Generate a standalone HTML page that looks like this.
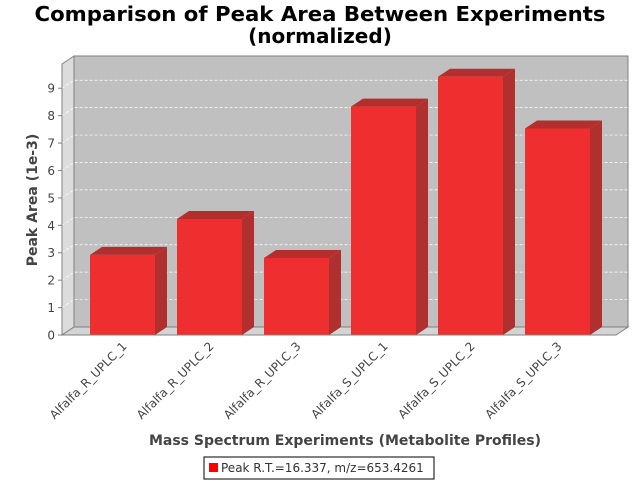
<!DOCTYPE html>
<html><head><meta charset="utf-8"><style>
body{margin:0;background:#fff}
svg{display:block;font-family:"DejaVu Sans","Liberation Sans",sans-serif}
</style></head><body>
<svg id="chart" width="640" height="480" viewBox="0 0 640 480" xmlns="http://www.w3.org/2000/svg">
<text x="320" y="21" text-anchor="middle" font-size="20" font-weight="bold" textLength="571" lengthAdjust="spacingAndGlyphs">Comparison of Peak Area Between Experiments</text>
<text x="320" y="43" text-anchor="middle" font-size="20" font-weight="bold">(normalized)</text>
<g id="plot"></g>
<text transform="translate(37,200) rotate(-90)" text-anchor="middle" font-size="14" font-weight="bold" fill="#444">Peak Area (1e-3)</text>
<text x="345" y="445" text-anchor="middle" font-size="14" font-weight="bold" fill="#444">Mass Spectrum Experiments (Metabolite Profiles)</text>
<g>
<rect x="204" y="457" width="230" height="22" fill="#fff" stroke="#000"/>
<rect x="209" y="463" width="9" height="9" fill="#ff0000"/>
<text x="221" y="472" font-size="12" fill="#333">Peak R.T.=16.337, m/z=653.4261</text>
</g>
</svg>
<script>
const categories=["Alfalfa_R_UPLC_1","Alfalfa_R_UPLC_2","Alfalfa_R_UPLC_3","Alfalfa_S_UPLC_1","Alfalfa_S_UPLC_2","Alfalfa_S_UPLC_3"];
const values=[2.92,4.23,2.81,8.33,9.42,7.53];
const yTicks=[0,1,2,3,4,5,6,7,8,9];
const NS="http://www.w3.org/2000/svg";
const plot=document.getElementById('plot');
const X0=62,X1=616,Y0=335,YT=64,DX=12,DY=8,U=27.42;
const y=v=>Y0-v*U;
const xc=i=>122.5+87*i;
function mk(t,a,p){const e=document.createElementNS(NS,t);for(const k in a)e.setAttribute(k,a[k]);(p||plot).appendChild(e);return e;}
// walls
let e;
e=mk('polygon',{points:`${X0+DX},${YT-DY} ${X1+DX},${YT-DY} ${X1+DX},${Y0-DY} ${X0+DX},${Y0-DY}`,fill:'#c0c0c0',stroke:'#808080'});

e=mk('polygon',{points:`${X0},${YT} ${X0+DX},${YT-DY} ${X0+DX},${Y0-DY} ${X0},${Y0}`,fill:'#dcdcdc',stroke:'#808080'});

e=mk('polygon',{points:`${X0},${Y0} ${X0+DX},${Y0-DY} ${X1+DX},${Y0-DY} ${X1},${Y0}`,fill:'#d4d4d4',stroke:'#808080'});

yTicks.forEach(t=>{
  if(t>0){e=mk('polyline',{points:`${X0},${y(t)} ${X0+DX},${y(t)-DY} ${X1+DX},${y(t)-DY}`,fill:'none',stroke:'#fff','stroke-dasharray':'3,2','stroke-width':0.7});
  }
  e=mk('line',{x1:X0-4,x2:X0,y1:y(t),y2:y(t),stroke:'#808080'});
  
  e=mk('text',{x:X0-7,y:y(t)+4.5,'text-anchor':'end','font-size':12,fill:'#444'});e.textContent=t;
  
});
e=mk('line',{x1:X0,x2:X0,y1:YT,y2:Y0,stroke:'#808080'});

values.forEach((v,i)=>{
  const l=xc(i)-32.5,r=xc(i)+32.5,t=y(v);
  const g=mk('g',{});
  
  mk('polygon',{points:`${l},${t} ${l+DX},${t-DY} ${r+DX},${t-DY} ${r},${t}`,fill:'#b42e2e'},g);
  mk('polygon',{points:`${r},${t} ${r+DX},${t-DY} ${r+DX},${Y0-DY} ${r},${Y0}`,fill:'#b03030'},g);
  mk('rect',{x:l,y:t,width:65,height:Y0-t,fill:'#ef2f2f'},g);
  const tx=xc(i)+5,ty=Y0+12;
  e=mk('text',{x:tx,y:ty,'text-anchor':'end','font-size':12,fill:'#444',transform:`rotate(-45 ${tx} ${ty})`});
  e.textContent=categories[i];
  
});
e=mk('line',{x1:X0,x2:X1,y1:Y0,y2:Y0,stroke:'#808080'});

</script>
</body></html>
